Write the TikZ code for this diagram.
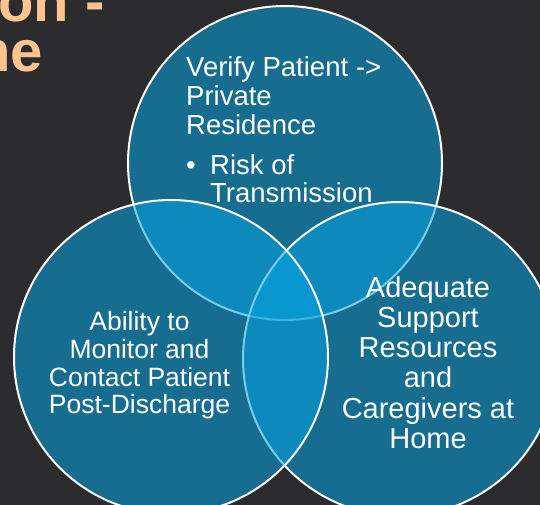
\documentclass[tikz,border=0pt]{standalone}
\usepackage{fontspec}
\setmainfont{Liberation Sans}
\definecolor{bg}{RGB}{44,44,47}
\definecolor{venn}{RGB}{6,163,224}
\definecolor{titleorange}{RGB}{253,196,143}
\begin{document}
\begin{tikzpicture}[x=1pt,y=-1pt,
  vcircle/.style={circle, minimum size=314pt, inner sep=0pt, outer sep=0pt,
    fill=venn, fill opacity=0.55, draw=white, draw opacity=1, line width=2pt},
  titletext/.style={font=\fontsize{58}{50}\selectfont\bfseries, text=titleorange, inner sep=0pt, anchor=base east},
  ttext/.style={font=\fontsize{27.5}{29}\selectfont, text=white, inner sep=0pt, anchor=base west},
  ltext/.style={font=\fontsize{26.5}{28}\selectfont, text=white, inner sep=0pt, anchor=base},
  rtext/.style={font=\fontsize{29}{30}\selectfont, text=white, inner sep=0pt, anchor=base}]
\useasboundingbox (0,0) rectangle (540,505);
\clip (0,0) rectangle (540,505);
\fill[bg] (0,0) rectangle (540,505);
% title fragment
\node[titletext] (title1) at (105,22) {on -};
\node[titletext] (title2) at (43,72) {ne};
% top circle and its text
\node[vcircle] (ctop) at (285,163) {};
\node[ttext] (t1) at (186,77) {Verify Patient ->};
\node[ttext] (t2) at (186,106) {Private};
\node[ttext] (t3) at (186,135) {Residence};
\node[ttext] (t4) at (186,175) {•};
\node[ttext] (t5) at (210,175) {Risk of};
\node[ttext] (t6) at (210,202) {Transmission};
% right and left circles
\node[vcircle] (cright) at (400,359) {};
\node[vcircle] (cleft) at (171,357) {};
% left text
\node[ltext] (l1) at (139.5,330) {Ability to};
\node[ltext] (l2) at (139.5,358) {Monitor and};
\node[ltext] (l3) at (139.5,386) {Contact Patient};
\node[ltext] (l4) at (139.5,413) {Post-Discharge};
% right text
\node[rtext] (r1) at (428,297) {Adequate};
\node[rtext] (r2) at (428,327) {Support};
\node[rtext] (r3) at (428,357) {Resources};
\node[rtext] (r4) at (428,387) {and};
\node[rtext] (r5) at (428,418) {Caregivers at};
\node[rtext] (r6) at (428,448) {Home};
\end{tikzpicture}
\end{document}
